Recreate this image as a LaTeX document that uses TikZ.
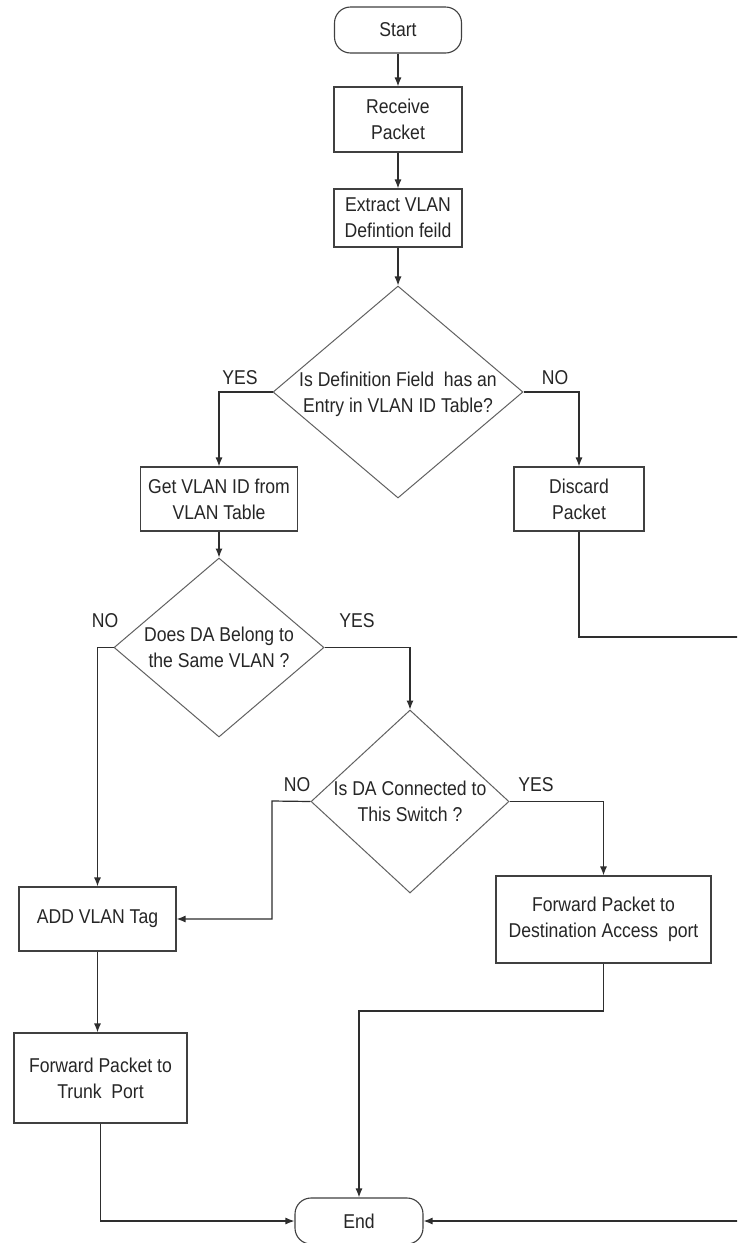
\documentclass[tikz,border=0pt]{standalone}
\usepackage{fontspec}
\setmainfont{Liberation Sans}[FakeStretch=0.88]
\usetikzlibrary{shapes.geometric,arrows.meta}
\begin{document}
\begin{tikzpicture}[x=1pt,y=-1pt,
  ln/.style={draw=black!82, line width=1.2pt},
  arr/.style={ln, -{Latex[length=9pt,width=7pt]}},
  txtfont/.style={font=\fontsize{20}{26}\selectfont, text=black!85},
  box/.style={draw=black!75, line width=1.1pt, fill=white, inner sep=0pt, align=center, txtfont},
  term/.style={box, rounded corners=16pt},
  dia/.style={diamond, draw=black!62, line width=1pt, inner sep=0pt},
  dtxt/.style={align=center, inner sep=0pt, txtfont},
  lab/.style={inner sep=0pt, txtfont}]
\clip (0,0) rectangle (737,1243);
\fill[white] (0,0) rectangle (737,1243);

\node[term, minimum width=127pt, minimum height=46pt] (start) at (398,30) {Start};
\node[box, minimum width=128pt, minimum height=65pt] (recv) at (398,119.5) {Receive\\Packet};
\node[box, minimum width=128pt, minimum height=58pt] (extr) at (398,218) {Extract VLAN\\Defintion feild};
\node[dia, minimum width=250pt, minimum height=212pt] (d1) at (398,392) {};
\node[dtxt] (t1) at (398,394) {Is Definition Field~ has an\\Entry in VLAN ID Table?};
\node[lab] (y1) at (240,378) {YES};
\node[lab] (n1) at (555,378) {NO};
\node[box, minimum width=157pt, minimum height=64pt] (getv) at (219,499) {Get VLAN ID from\\VLAN Table};
\node[box, minimum width=130pt, minimum height=64pt] (disc) at (579,499) {Discard\\Packet};
\node[dia, minimum width=210pt, minimum height=179pt] (d2) at (219,647.5) {};
\node[dtxt] (t2) at (219,647) {Does DA Belong to\\the Same VLAN ?};
\node[lab] (n2) at (105,621) {NO};
\node[lab] (y2) at (357,621) {YES};
\node[dia, minimum width=198pt, minimum height=183pt] (d3) at (410,801.5) {};
\node[dtxt] (t3) at (410,801) {Is DA Connected to\\This Switch ?};
\node[lab] (n3) at (297,785) {NO};
\node[lab] (y3) at (536,785) {YES};
\node[box, minimum width=157pt, minimum height=64pt] (addv) at (97.5,919) {ADD VLAN Tag};
\node[box, minimum width=215pt, minimum height=87pt] (fwdd) at (603.5,919.5) {Forward Packet to\\Destination Access~ port};
\node[box, minimum width=173pt, minimum height=90pt] (trunk) at (100.5,1078) {Forward Packet to\\Trunk~ Port};
\node[term, minimum width=128pt, minimum height=46pt] (end) at (359,1221) {End};

\draw[arr] (start) -- (recv);
\draw[arr] (recv) -- (extr);
\draw[arr] (extr) -- (d1);
\draw[arr] (d1.west) -| (getv.north);
\draw[arr] (d1.east) -| (disc.north);
\draw[arr] (getv.south) -- (d2.north);
\draw[arr] (d2.west) -| (addv.north);
\draw[arr] (d2.east) -| (d3.north);
\coordinate (k3) at (272,801);
\draw[arr] (d3.west) -- (k3) |- (addv.east);
\draw[arr] (d3.east) -| (fwdd.north);
\draw[arr] (addv.south) -- (addv.south |- trunk.north);
\coordinate (k4) at (603.5,1011);
\draw[arr] (fwdd.south) -- (k4) -| (end.north);
\draw[arr] (trunk.south) |- (end.west);
\coordinate (k5) at (752,637);
\draw[arr] (disc.south) |- (k5) |- (end.east);
\end{tikzpicture}
\end{document}
